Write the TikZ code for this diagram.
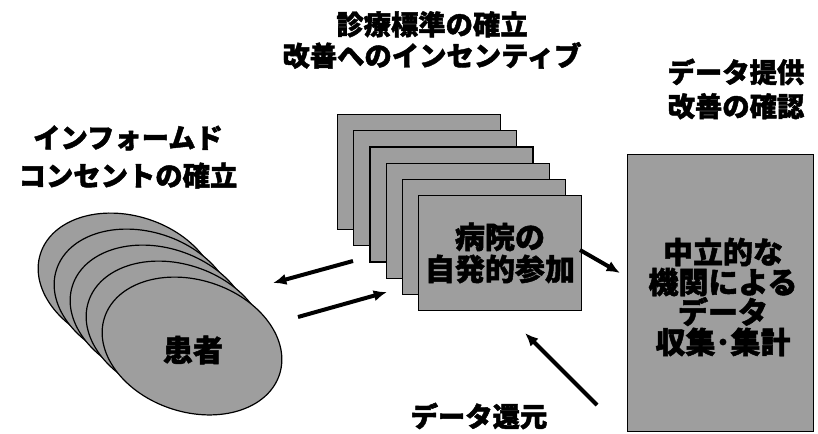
\documentclass[tikz,border=0pt]{standalone}
\usepackage{fontspec}
\setmainfont{Noto Sans CJK JP}[BoldFeatures={FakeBold=1.6}]
\usetikzlibrary{arrows.meta,shapes.geometric}
\tikzset{
  texture/.style={draw=black, line width=0.9pt, fill=black!38},
  card/.style={texture, rectangle, anchor=north west, minimum width=122.25pt, minimum height=86.25pt, inner sep=0pt},
  disc/.style={texture, ellipse, minimum width=138pt, minimum height=99pt, rotate=-18, inner sep=0pt},
  bigbox/.style={texture, rectangle, anchor=north west, minimum width=139.5pt, minimum height=207.75pt, inner sep=0pt},
  title/.style={align=center, inner sep=0pt, font=\bfseries\fontsize{20.5pt}{#1}\selectfont},
  intext/.style={align=center, inner sep=0pt, font=\bfseries\fontsize{22.5pt}{#1}\selectfont},
  flow/.style={line width=3pt, -{Latex[length=10pt,width=8.5pt]}},
}
\begin{document}
\begin{tikzpicture}[x=0.75pt,y=-0.75pt]
\useasboundingbox (0,0) rectangle (818,433);
% patients
\node[disc] (p1) at (128,282) {};
\node[disc] (p2) at (144,298) {};
\node[disc] (p3) at (160,314) {};
\node[disc] (p4) at (176,330) {};
\node[disc] (p5) at (192,346) {};
\node[intext={22pt}] (pt) at (193,350) {患者};
% hospitals
\node[card] (h1) at (337,114) {};
\node[card] (h2) at (353.2,130.2) {};
\node[card] (h3) at (369.4,146.4) {};
\node[card] (h4) at (385.6,162.6) {};
\node[card] (h5) at (401.8,178.8) {};
\node[card] (h6) at (418,195) {};
\node[intext={24pt}] (ht) at (500,253) {病院の\\自発的参加};
% neutral organisation
\node[bigbox] (org) at (627,154) {};
\node[intext={22.5pt}] (ot) at (723,297) {中立的な\\機関による\\データ\\収集･集計};
% titles
\node[title={28.5pt}] (t1) at (128,157) {インフォームド\\コンセントの確立};
\node[title={23.5pt}] (t2) at (432,40) {診療標準の確立\\改善へのインセンティブ};
\node[title={25.5pt}] (t3) at (736,89) {データ提供\\改善の確認};
\node[title={20pt}] (t4) at (479,416) {データ還元};
% arrows
\coordinate (a1s) at (353,261); \coordinate (a1e) at (273,283);
\coordinate (a2s) at (298,317); \coordinate (a2e) at (387,292);
\coordinate (a3s) at (580,250); \coordinate (a3e) at (620,273);
\coordinate (a4s) at (597,405); \coordinate (a4e) at (525,333);
\draw[flow] (a1s) -- (a1e);
\draw[flow] (a2s) -- (a2e);
\draw[flow] (a3s) -- (a3e);
\draw[flow] (a4s) -- (a4e);
\end{tikzpicture}
\end{document}
